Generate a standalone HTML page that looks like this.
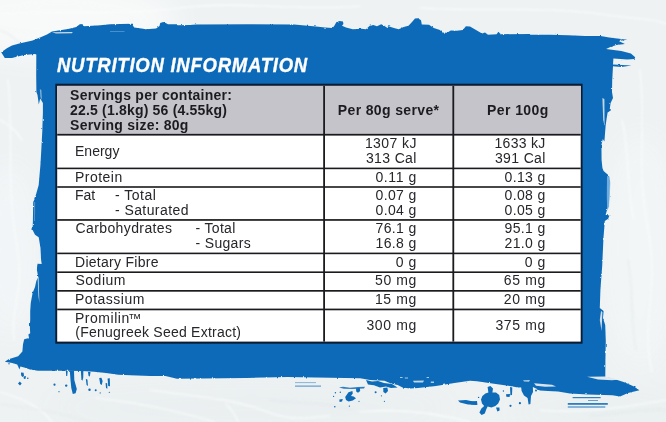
<!DOCTYPE html>
<html lang="en">
<head>
<meta charset="utf-8">
<title>Nutrition Information</title>
<style>
html,body{margin:0;padding:0;background:#eef2f3}
body{width:666px;height:422px;overflow:hidden;position:relative;background:#eef2f3;font-family:"Liberation Sans",sans-serif}
#art{position:absolute;left:0;top:0;width:666px;height:422px;display:block}
.t{position:absolute;white-space:nowrap;font-size:14px;line-height:14px;color:#26262b;font-weight:400}
.b{font-weight:700;color:#1c1c20}
.i{font-style:italic;-webkit-text-stroke:.35px #fff}
</style>
</head>
<body>
<svg id="art" width="666" height="422" viewBox="0 0 666 422">
<defs>
<filter id="soft" x="-20%" y="-20%" width="140%" height="140%"><feGaussianBlur stdDeviation="14"/></filter>
<filter id="vein" x="-10%" y="-10%" width="120%" height="120%"><feGaussianBlur stdDeviation="1.1"/></filter>
<filter id="rough" x="-2%" y="-5%" width="104%" height="110%"><feTurbulence type="fractalNoise" baseFrequency="0.35 0.22" numOctaves="2" seed="7" result="n"/><feDisplacementMap in="SourceGraphic" in2="n" scale="2.2" xChannelSelector="R" yChannelSelector="G"/></filter>
</defs>
<rect width="666" height="422" fill="#eef2f3"/>
<g filter="url(#soft)"><ellipse cx="60" cy="20" rx="120" ry="40" fill="#f8fafa" opacity=".9"/><ellipse cx="640" cy="250" rx="40" ry="120" fill="#f3f6f6" opacity=".8"/><ellipse cx="10" cy="250" rx="30" ry="90" fill="#f2f6f7" opacity=".8"/><ellipse cx="250" cy="408" rx="200" ry="18" fill="#e9eeef" opacity=".8"/><ellipse cx="600" cy="412" rx="90" ry="14" fill="#e8edee" opacity=".8"/></g>
<g fill="none" stroke="#fbfdfd" stroke-width="1.6" stroke-linecap="round" opacity=".75" filter="url(#vein)"><path d="M0 392 C20 398 38 404 52 422"/><path d="M96 398 C130 402 170 408 214 422"/><path d="M150 390 C190 396 230 398 262 410 S300 418 330 416"/><path d="M226 404 C232 410 236 416 238 422"/><path d="M360 412 C400 408 440 414 470 422"/><path d="M540 410 C580 414 620 408 666 400"/><path d="M640 70 C646 120 636 170 648 230 S640 320 652 372"/><path d="M622 120 C630 150 626 190 634 220"/><path d="M8 80 C14 130 6 180 16 240 S10 300 14 340"/><path d="M0 14 C60 10 120 16 180 8 S300 12 360 6"/><path d="M420 8 C480 12 540 6 600 14 S650 18 666 24"/><path d="M0 120 C8 124 16 130 22 140"/></g>
<g fill="none" stroke="#e2e8ea" stroke-width="1.2" stroke-linecap="round" opacity=".7" filter="url(#vein)"><path d="M0 404 C30 408 60 412 90 422"/><path d="M270 400 C300 404 330 402 352 410"/><path d="M590 416 C620 414 646 408 666 410"/><path d="M628 260 C634 290 630 320 636 350"/><path d="M0 30 C10 34 16 38 22 46"/></g>
<polygon points="1.2,52.3 7.3,47.9 12.0,45.4 19.3,43.6 32.6,40.6 40.0,37.4 47.0,34.4 52.0,31.6 60.0,30.2 68.0,28.9 76.3,27.0 79.8,24.3 82.4,24.1 83.6,26.3 88.3,26.0 100.4,25.3 110.0,24.3 131.8,23.7 134.2,27.4 141.4,28.6 146.3,29.2 156.0,28.6 159.5,26.1 160.2,23.1 163.2,21.9 165.6,23.1 168.0,24.3 175.9,24.3 177.7,25.3 190.0,25.0 196.0,24.4 246.8,24.2 294.0,24.6 316.0,26.5 325.0,27.5 332.3,28.1 334.0,26.3 336.5,22.1 339.5,21.1 343.0,21.5 343.4,23.9 342.0,25.7 346.0,27.5 352.8,29.3 361.3,28.7 366.0,29.3 369.7,25.7 373.3,25.1 377.0,26.3 381.2,24.3 384.2,25.7 386.6,27.5 388.4,26.3 393.9,28.1 398.7,29.3 403.6,26.9 408.5,25.7 412.0,22.1 415.0,18.5 418.0,18.2 421.0,20.3 421.8,24.5 429.0,24.7 433.8,28.1 439.9,29.9 442.3,32.4 447.0,32.7 450.8,30.5 456.8,30.8 462.8,29.9 465.9,26.3 470.0,26.5 476.0,29.9 482.0,33.6 485.0,32.4 488.0,34.8 496.6,34.2 498.4,31.8 500.8,34.2 529.2,33.9 530.4,34.8 550.0,34.8 568.4,35.2 585.0,36.0 600.7,36.0 609.2,37.5 627.3,39.7 618.8,41.1 624.9,43.9 616.4,45.1 610.4,46.9 606.1,49.1 621.3,51.1 630.9,53.6 635.2,57.2 634.5,59.0 627.3,59.6 613.4,58.4 613.0,64.4 631.5,65.6 621.3,66.9 613.0,66.3 612.2,81.0 612.0,92.0 613.0,98.0 610.6,103.0 609.4,111.4 607.6,112.5 606.4,119.9 605.6,126.0 604.4,141.5 602.8,139.0 601.4,145.0 601.6,160.0 602.4,168.0 603.6,171.0 608.8,175.5 610.0,182.0 609.4,194.0 608.8,206.0 607.0,210.0 605.6,215.0 609.4,215.6 608.2,218.8 604.8,221.0 603.4,239.0 602.2,266.0 601.2,279.0 600.4,290.0 599.8,308.0 603.6,311.0 603.0,318.0 605.2,325.0 605.8,341.0 605.4,360.0 605.3,377.0 612.0,378.2 625.0,382.6 634.0,386.6 639.4,390.2 628.0,393.0 620.0,396.6 612.5,395.2 588.0,394.6 570.0,393.4 558.0,391.6 548.0,391.0 540.0,390.4 533.0,387.0 518.0,387.4 510.0,386.0 494.0,383.7 477.0,381.3 470.0,380.7 466.5,381.3 454.4,383.0 436.0,386.0 418.0,388.0 410.0,388.6 402.5,387.4 397.7,385.0 391.0,383.4 384.4,380.7 370.0,380.0 360.2,378.3 330.0,377.7 287.0,377.0 246.0,377.9 177.0,378.8 165.5,376.0 150.0,376.0 118.3,374.8 106.0,373.0 94.0,371.8 82.0,371.0 66.3,370.7 37.9,370.7 30.0,369.6 24.2,367.4 20.4,366.6 19.4,369.4 18.2,366.4 17.2,364.6 12.1,362.9 4.8,361.7 8.5,359.3 18.1,356.3 22.4,351.4 23.0,344.2 24.2,339.3 29.0,338.0 28.4,334.5 30.2,333.3 29.8,326.0 30.2,320.0 30.2,311.0 30.8,302.8 32.6,293.0 35.0,287.0 36.3,281.0 38.2,277.0 36.9,270.0 37.5,263.8 41.7,264.0 41.1,260.0 40.5,248.0 38.7,237.3 35.0,234.8 32.6,230.0 32.9,221.0 33.2,202.0 34.4,199.5 36.3,193.5 38.7,185.0 40.5,164.0 41.5,146.0 42.3,131.0 42.9,113.0 42.9,103.0 40.2,98.5 38.8,104.5 37.5,95.0 36.4,92.0 36.2,76.0 36.3,54.5 35.0,53.9 24.2,55.1 15.7,56.9 12.0,58.1 4.8,58.1" fill="#0d6bb8" filter="url(#rough)"/>
<g fill="#0d6bb8"><path d="M69.8 370.5 L74 370.5 L74.3 380 L76.8 389 L75.6 393.2 L72.8 394 L71.3 388 L70.5 380 Z"/><path d="M65.9 371 L67.7 371 L67.2 376 L66.2 376 Z"/><path d="M80.9 371 L83.4 371 L83.2 378 L82.4 380.8 L81.4 379.6 Z"/><path d="M88 372 L90.5 372 L89.8 376.6 L88.6 376 Z"/><path d="M85.8 379 L87.4 379.4 L88 386 L86.6 385 Z"/><path d="M99.2 378 L101.4 377.8 L102.6 381 L101.8 385 L100.2 384 Z"/><path d="M107.6 378.4 L109.8 378.2 L110 386.3 L108.2 386 Z"/><path d="M105.6 383 L107.2 383.2 L107.4 388.7 L106 388 Z"/><path d="M21 372.4 L23.6 372.8 L24 376 L22.4 377 L21.2 375.6 Z"/><path d="M19.8 381.4 L21.7 383.6 L20 385.6 L18 383.4 Z"/><path d="M23.6 376.4 L26 376 L25.4 379 L23.8 378.8 Z"/><circle cx="27.8" cy="378.2" r="0.8"/><circle cx="54.5" cy="384.7" r="1.1"/><circle cx="66.2" cy="385.6" r="1.2"/><circle cx="59" cy="391.7" r="0.6"/><circle cx="89.5" cy="389.8" r="1.2"/><circle cx="95.7" cy="390.3" r="1"/><circle cx="100.2" cy="392.9" r="0.6"/><circle cx="109.3" cy="392.3" r="0.6"/><circle cx="9" cy="363.8" r="0.7"/><rect x="295" y="382.2" width="21" height=".9" opacity=".5"/><rect x="295" y="385.6" width="26" height="1" opacity=".75"/><path d="M345.2 397 L348.5 392.2 L352.4 391 L352.8 393.6 L351 396 L353.6 396.6 L356 398.2 L352.8 400.6 L348.6 401.4 L346 400 Z"/><path d="M356 388.2 L359.8 388 L360.2 391 L358 392.8 L356.2 391.6 Z"/><path d="M339 387.6 L343 386.8 L350 387.8 L358 387 L365 386.8 L364 388.6 L352 389 L344 388.8 Z" opacity=".85"/><path d="M339.4 399.6 L342.8 399 L342 401.6 L339.6 402 Z"/><path d="M366 380 L372 381.6 L378 381 L384 383 L392 384 L397.6 387.4 L391 388 L386 386.4 L380 387.6 L374 385.2 L368 384.6 Z"/><path d="M383.2 388 L387.4 387.4 L388 391 L385.6 393.4 L383.4 392 Z"/><circle cx="375.6" cy="392.2" r="1"/><circle cx="335.4" cy="392.8" r="0.7"/><circle cx="340.3" cy="392.2" r="0.7"/><circle cx="333.6" cy="396.4" r="0.6"/><circle cx="340.3" cy="400.6" r="0.5"/><circle cx="334.8" cy="406.7" r="0.8"/><circle cx="349.4" cy="406.1" r="0.7"/><circle cx="359" cy="401.3" r="0.6"/><circle cx="384.4" cy="401.3" r="0.6"/><circle cx="381.4" cy="395.8" r="0.6"/><path d="M458 400.4 L466 400 L472 401.2 L477 402.4 L476.4 404.8 L468 404.4 L460 402.6 Z"/><path d="M487.6 387 L490.4 386 L493 388.4 L492.4 392.6 L496 392.4 L499.2 395 L500 399.4 L498.2 403.6 L495.4 406 L491.4 407.4 L487.6 406.6 L486.2 409.6 L484.8 413.6 L481.6 415 L479.4 412.6 L481.4 408.4 L484.2 406 L482 403.6 L481 399.6 L482.4 396 L485.4 393.4 L488.4 392.4 Z"/><path d="M470 401.4 L477 401 L477.4 405 L471 404.6 Z"/><path d="M496 407.6 L499.4 407.4 L499.6 410.6 L497.4 411.6 Z"/><path d="M510 387 L512.3 387.4 L512 395 L510.4 395.2 Z"/><path d="M506 394.2 L510 394 L509.6 397 L506.4 396.8 Z"/><path d="M520.8 384 L532.8 384 L533 392 L531 396 L530.4 404 L528.6 404.4 L527.6 398 L524 395.6 L521.6 391 Z"/><circle cx="519.9" cy="403.2" r="1.1"/><circle cx="510.5" cy="405.8" r="1.1"/><circle cx="478.6" cy="397.4" r="0.7"/><circle cx="536" cy="390.4" r="1"/><circle cx="503.4" cy="391" r="0.7"/><rect x="572.6" y="397" width="28" height="1.2" opacity=".85"/><rect x="588" y="400" width="10" height="1" opacity=".6"/><rect x="567.8" y="403" width="40" height="1.8" opacity=".85"/><rect x="567.8" y="406.2" width="37.5" height="1.6" opacity=".55"/></g>
<g fill="#eef2f3"><path d="M587 376.8 L605 376.4 L620 379.6 L612 380.2 L598 379.4 Z" opacity=".92"/><path d="M534 383.2 L552 384.8 L556 386.4 L545 386.8 L536 385.8 Z" opacity=".9"/><path d="M523 380.2 L530 380 L529 381.8 L524 381.6 Z" opacity=".7"/><path d="M413 380.8 L424 380.6 L423 382.4 L414 382.4 Z" opacity=".8"/><path d="M400 377 L402.6 377 L402.6 378 L400 378 Z M404.8 377.6 L408 377.6 L408 378.6 L404.8 378.6 Z M426.6 377 L429 377 L429 378 L426.6 378 Z M430.8 381.6 L434 381.6 L434 383 L430.8 383 Z" opacity=".7"/><path d="M52 32.2 L72.6 32 L72 33.2 L56 33.4 Z" opacity=".85"/><path d="M602.4 98 L604.4 99 L604.6 126 L603.2 120 Z" opacity=".8"/><path d="M601 311 L602.4 312 L601.6 331 L599.8 320 Z" opacity=".85"/><path d="M37.6 277 L38.6 277 L39.4 303 L38.4 296 Z" opacity=".8"/><path d="M34.5 202 L35.1 202 L35 221 L34.5 221 Z" opacity=".6"/><path d="M39.8 89 L41.4 90 L42 100 L40.4 97 Z" opacity=".5"/><path d="M110 31 L124.5 31 L124.5 31.8 L110 31.8 Z" opacity=".35"/></g>
<path d="M607 176 L609.6 176.6 L610.4 183 L609.8 196 L609 207 L607.2 211 L606.8 196 Z" fill="#8ec3ea" opacity=".75"/>
<rect x="55.3" y="83.7" width="527.3" height="260.0" fill="#0c1d33"/>
<rect x="57.2" y="85.9" width="523.5" height="255.7" fill="#ffffff"/>
<rect x="57.2" y="85.9" width="523.5" height="47.9" fill="#c4c4ca"/>
<g fill="#1b1b1f"><rect x="57.2" y="133.8" width="523.5" height="1.8"/><rect x="57.2" y="167.6" width="523.5" height="1.6"/><rect x="57.2" y="186.2" width="523.5" height="1.6"/><rect x="57.2" y="219.1" width="523.5" height="1.7"/><rect x="57.2" y="252.6" width="523.5" height="1.6"/><rect x="57.2" y="271.4" width="523.5" height="1.6"/><rect x="57.2" y="290.0" width="523.5" height="1.7"/><rect x="57.2" y="308.6" width="523.5" height="1.7"/><rect x="323.2" y="85.9" width="1.8" height="255.7"/><rect x="452.4" y="85.9" width="1.8" height="255.7"/></g>
</svg>
<main>
<span class="t b i" style="left:56.75px;top:55.00px;font-size:20px;line-height:20px;color:#ffffff;letter-spacing:0.822px;transform:scaleX(0.925);transform-origin:0 0;">NUTRITION INFORMATION</span>
<span class="t b" style="left:70.05px;top:88.00px;letter-spacing:0.250px;">Servings per container:</span>
<span class="t b" style="left:70.05px;top:103.00px;letter-spacing:0.186px;">22.5 (1.8kg) 56 (4.55kg)</span>
<span class="t b" style="left:70.05px;top:118.00px;letter-spacing:0.247px;">Serving size: 80g</span>
<span class="t b" style="left:337.85px;top:103.00px;letter-spacing:0.355px;">Per 80g serve*</span>
<span class="t b" style="left:487.05px;top:103.00px;letter-spacing:0.411px;">Per 100g</span>
<span class="t" style="left:75.00px;top:144.00px;letter-spacing:0.008px;">Energy</span>
<span class="t" style="left:75.00px;top:170.00px;letter-spacing:0.482px;">Protein</span>
<span class="t" style="left:75.00px;top:188.00px;letter-spacing:0.008px;">Fat</span>
<span class="t" style="left:115.00px;top:188.00px;letter-spacing:0.504px;">- Total</span>
<span class="t" style="left:115.00px;top:203.00px;letter-spacing:0.418px;">- Saturated</span>
<span class="t" style="left:75.50px;top:221.00px;letter-spacing:0.393px;">Carbohydrates</span>
<span class="t" style="left:195.60px;top:221.00px;letter-spacing:0.304px;">- Total</span>
<span class="t" style="left:195.60px;top:236.00px;letter-spacing:0.311px;">- Sugars</span>
<span class="t" style="left:75.00px;top:255.00px;letter-spacing:0.280px;">Dietary Fibre</span>
<span class="t" style="left:75.50px;top:273.00px;letter-spacing:0.496px;">Sodium</span>
<span class="t" style="left:75.00px;top:292.00px;letter-spacing:0.505px;">Potassium</span>
<span class="t" style="left:75.00px;top:311.00px;letter-spacing:0.525px;">Promilin</span>
<span class="t" style="left:128.30px;top:312.00px;font-size:13px;line-height:13px;">™</span>
<span class="t" style="left:75.25px;top:325.00px;letter-spacing:0.235px;">(Fenugreek Seed Extract)</span>
<span class="t" style="left:364.95px;top:136.00px;letter-spacing:0.401px;">1307 kJ</span>
<span class="t" style="left:365.95px;top:151.00px;letter-spacing:0.364px;">313 Cal</span>
<span class="t" style="left:375.45px;top:170.00px;letter-spacing:0.612px;">0.11 g</span>
<span class="t" style="left:375.45px;top:188.00px;letter-spacing:0.402px;">0.07 g</span>
<span class="t" style="left:375.45px;top:203.00px;letter-spacing:0.402px;">0.04 g</span>
<span class="t" style="left:375.45px;top:221.00px;letter-spacing:0.402px;">76.1 g</span>
<span class="t" style="left:375.45px;top:236.00px;letter-spacing:0.402px;">16.8 g</span>
<span class="t" style="left:395.65px;top:255.00px;letter-spacing:0.641px;">0 g</span>
<span class="t" style="left:375.10px;top:273.00px;letter-spacing:0.595px;">50 mg</span>
<span class="t" style="left:374.95px;top:292.00px;letter-spacing:0.632px;">15 mg</span>
<span class="t" style="left:366.45px;top:318.00px;letter-spacing:0.649px;">300 mg</span>
<span class="t" style="left:494.45px;top:136.00px;letter-spacing:0.317px;">1633 kJ</span>
<span class="t" style="left:494.95px;top:151.00px;letter-spacing:0.364px;">391 Cal</span>
<span class="t" style="left:504.45px;top:170.00px;letter-spacing:0.402px;">0.13 g</span>
<span class="t" style="left:504.45px;top:188.00px;letter-spacing:0.402px;">0.08 g</span>
<span class="t" style="left:504.45px;top:203.00px;letter-spacing:0.402px;">0.05 g</span>
<span class="t" style="left:504.45px;top:221.00px;letter-spacing:0.402px;">95.1 g</span>
<span class="t" style="left:504.45px;top:236.00px;letter-spacing:0.402px;">21.0 g</span>
<span class="t" style="left:524.65px;top:255.00px;letter-spacing:0.641px;">0 g</span>
<span class="t" style="left:503.85px;top:273.00px;letter-spacing:0.657px;">65 mg</span>
<span class="t" style="left:503.85px;top:292.00px;letter-spacing:0.657px;">20 mg</span>
<span class="t" style="left:495.45px;top:318.00px;letter-spacing:0.649px;">375 mg</span>
</main>
</body>
</html>
